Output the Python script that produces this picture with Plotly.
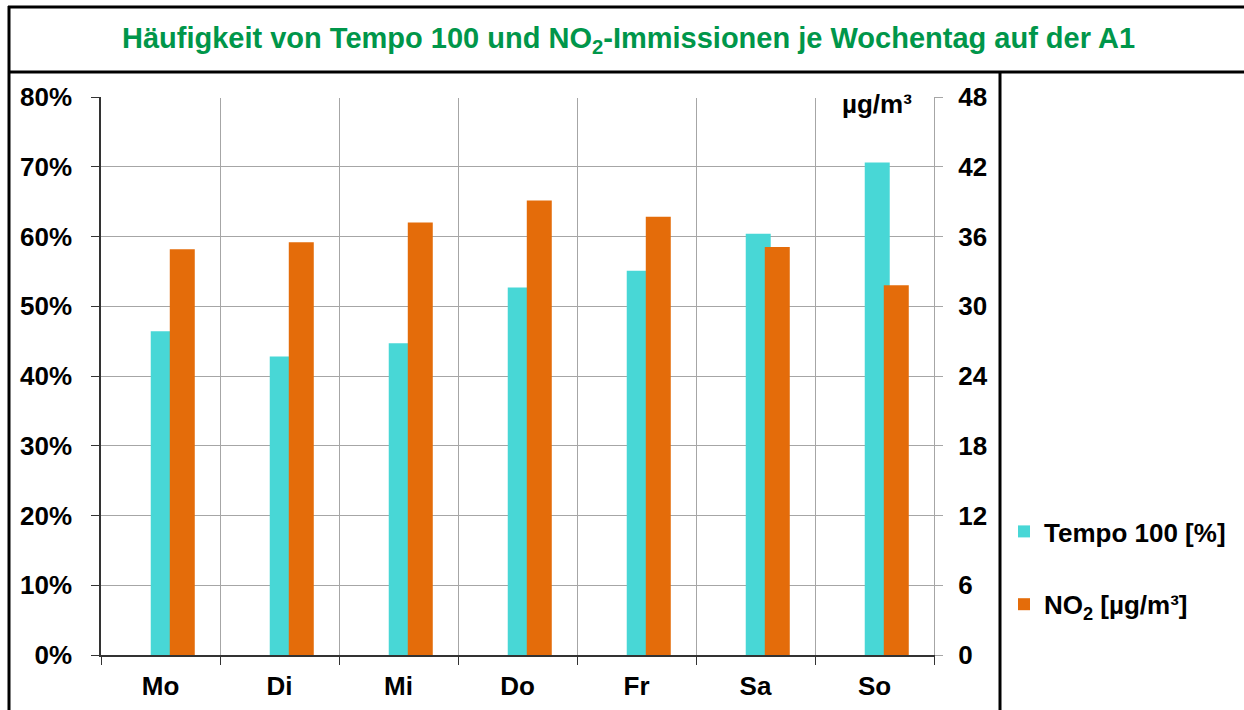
import plotly.graph_objects as go

days = ["Mo", "Di", "Mi", "Do", "Fr", "Sa", "So"]
tempo100 = [0.464, 0.428, 0.447, 0.527, 0.551, 0.604, 0.706]
no2 = [34.9, 35.5, 37.2, 39.1, 37.7, 35.1, 31.8]

W, H = 1244, 710
L, R, T, B = 101, 934, 97, 655

def px(x):
    return (x - L) / (R - L)

def py(y):
    return (B - y) / (B - T)

CYAN = "#48D7D6"
ORANGE = "#E46C0A"
GREEN = "#00964A"
FONT = "Liberation Sans, Arial, sans-serif"

fig = go.Figure()
fig.add_trace(go.Bar(
    x=days, y=tempo100, name="Tempo 100 [%]", marker=dict(color=CYAN, line=dict(width=0)),
    width=0.21, offset=-0.082, yaxis="y", legendgroup="a",
))
fig.add_trace(go.Bar(
    x=days, y=no2, name="NO<sub>2</sub> [µg/m³]", marker=dict(color=ORANGE, line=dict(width=0)),
    width=0.21, offset=0.078, yaxis="y2", legendgroup="b",
))

tickfont = dict(family=FONT, size=26, color="#000000", weight="bold")

fig.update_layout(
    width=W, height=H,
    margin=dict(l=L, r=W - R, t=T, b=H - B, autoexpand=False),
    paper_bgcolor="white", plot_bgcolor="white",
    font=dict(family=FONT),
    barmode="overlay",
    showlegend=True,
    legend=dict(
        x=px(1004), y=py(508), xanchor="left", yanchor="top",
        font=dict(family=FONT, size=26, color="#000000", weight="bold"),
        traceorder="grouped", tracegroupgap=36, itemwidth=30,
        bgcolor="rgba(0,0,0,0)", borderwidth=0,
    ),
    xaxis=dict(
        type="category", tickson="boundaries", showgrid=True, gridcolor="#A6A6A6", gridwidth=1,
        showline=True, linecolor="#333333", linewidth=1.5,
        ticks="outside", ticklen=8, tickcolor="#333333",
        tickfont=tickfont, ticklabelstandoff=7,
        range=[-0.5, 6.5], fixedrange=True,
    ),
    yaxis=dict(
        range=[0, 0.8], dtick=0.1, tickformat=".0%",
        showgrid=True, gridcolor="#A6A6A6", gridwidth=1, zeroline=False,
        showline=True, linecolor="#333333", linewidth=1.5,
        ticks="outside", ticklen=8, tickcolor="#333333",
        tickfont=tickfont, ticklabelstandoff=14,
    ),
    yaxis2=dict(
        range=[0, 48], dtick=6, overlaying="y", side="right",
        showgrid=False, zeroline=False,
        showline=True, linecolor="#A6A6A6", linewidth=1,
        ticks="outside", ticklen=8, tickcolor="#A6A6A6",
        tickfont=tickfont, ticklabelstandoff=10,
    ),
)

# title
fig.add_annotation(
    text="Häufigkeit von Tempo 100 und NO<sub>2</sub>-Immissionen je Wochentag auf der A1",
    xref="paper", yref="paper", x=px(628), y=py(40), xanchor="center", yanchor="middle",
    showarrow=False, font=dict(family=FONT, size=29, color=GREEN, weight="bold"),
)
# unit label
fig.add_annotation(
    text="µg/m³", xref="paper", yref="paper", x=px(877), y=py(104),
    xanchor="center", yanchor="middle", showarrow=False, bgcolor="white",
    font=dict(family=FONT, size=26, color="#000000", weight="bold"),
)

# hide top gridline
fig.add_shape(type="line", xref="paper", yref="paper", x0=px(103), x1=px(932), y0=1, y1=1,
              line=dict(color="white", width=2), layer="above")

# frame lines
frame = dict(color="#000000", width=3)
fig.add_shape(type="line", xref="paper", yref="paper", x0=px(8), x1=px(1250), y0=py(7), y1=py(7), line=frame)
fig.add_shape(type="line", xref="paper", yref="paper", x0=px(9), x1=px(9), y0=py(6), y1=py(715), line=frame)
fig.add_shape(type="line", xref="paper", yref="paper", x0=px(8), x1=px(1250), y0=py(72), y1=py(72), line=frame)
fig.add_shape(type="line", xref="paper", yref="paper", x0=px(1000), x1=px(1000), y0=py(72), y1=py(715), line=frame)

fig.write_html(
    "out.html",
    config={"displayModeBar": False},
    post_script="document.body.style.margin='0';document.body.style.padding='0';document.body.style.overflow='hidden';",
)
